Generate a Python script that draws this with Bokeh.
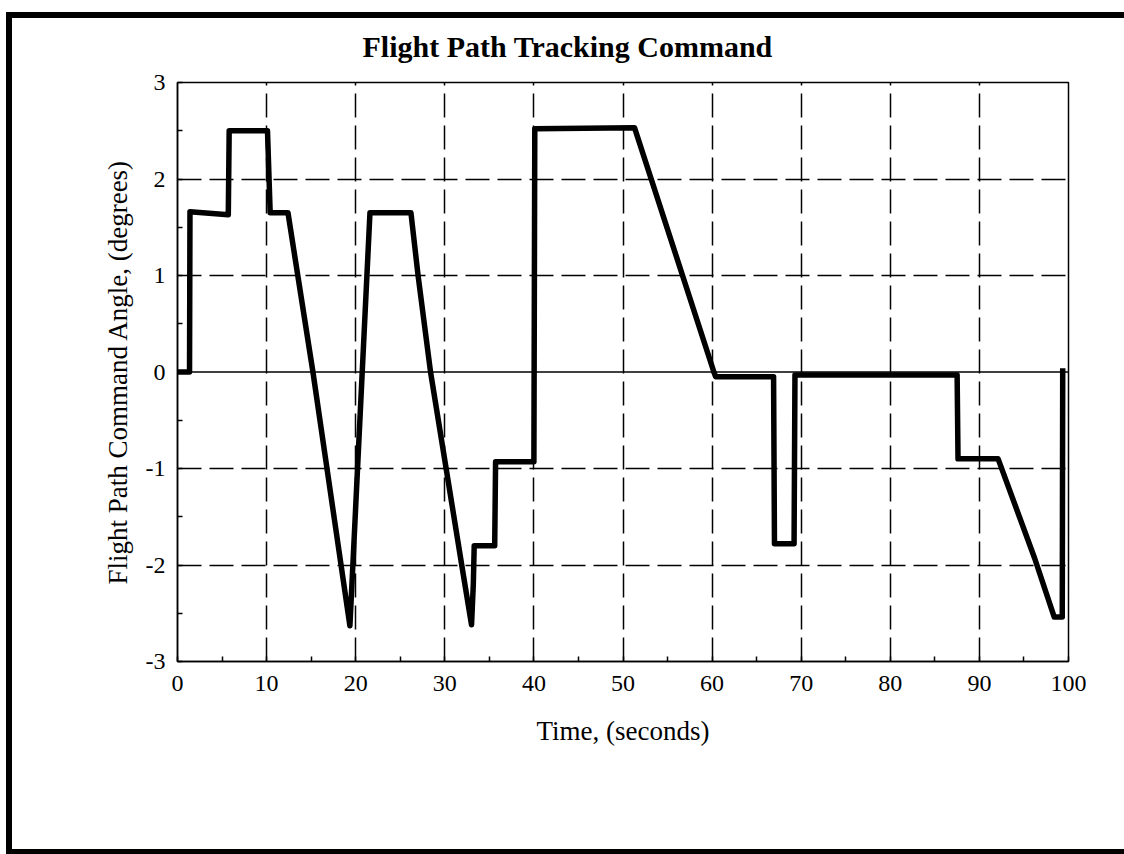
from bokeh.plotting import figure
from bokeh.models import Range1d, FixedTicker, Span, Title
from bokeh.embed import file_html
from bokeh.resources import INLINE

# Time (s) and flight path command angle (deg)
time_s = [0.0, 1.35, 1.4, 5.7, 5.8, 10.1, 10.4, 12.4, 13.5, 15.2, 19.35,
          21.6, 26.2, 27.0, 28.4, 31.9, 33.0, 33.2, 33.3, 35.6, 35.7,
          40.0, 40.1, 51.3, 60.2, 60.4, 66.9, 67.0, 69.2, 69.3, 87.5, 87.6, 92.1,
          96.2, 98.4, 99.3, 99.35]
angle_deg = [0.0, 0.0, 1.66, 1.63, 2.5, 2.5, 1.65, 1.65, 1.0, 0.0, -2.63,
             1.65, 1.65, 1.0, 0.0, -2.0, -2.62, -2.2, -1.8, -1.8, -0.93,
             -0.93, 2.52, 2.53, 0.0, -0.05, -0.05, -1.78, -1.78, -0.03, -0.03, -0.9, -0.9,
             -1.93, -2.54, -2.54, 0.04]

x_ticks = [0, 10, 20, 30, 40, 50, 60, 70, 80, 90, 100]
x_minor = [5, 15, 25, 35, 45, 55, 65, 75, 85, 95]
y_ticks = [-3, -2, -1, 0, 1, 2, 3]
y_tick_labels = ["-3", "-2", "-1", "0", "1", "2", "3"]
y_minor = [-2.5, -1.5, -0.5, 0.5, 1.5, 2.5]
x_grid = [10, 20, 30, 40, 50, 60, 70, 80, 90]
y_grid = [-2, -1, 1, 2]

title_text = "Flight Path Tracking Command"
x_label = "Time, (seconds)"
y_label = "Flight Path Command Angle, (degrees)"

FONT = "Liberation Serif"

# page border of the scanned figure (left, top and bottom edges)
page_border = {
    "background-color": "white",
    "background-image": "linear-gradient(#000,#000), linear-gradient(#000,#000), linear-gradient(#000,#000)",
    "background-size": "6px 843px, 1118px 6px, 1118px 5px",
    "background-position": "6px 12px, 6px 12px, 6px 849px",
    "background-repeat": "no-repeat",
}

p = figure(width=1124, height=854, output_backend="svg", toolbar_location=None,
           x_range=Range1d(0, 100), y_range=Range1d(-3, 3),
           min_border_left=177, min_border_right=56, min_border_top=82,
           min_border_bottom=193, styles=page_border)
p.background_fill_color = "white"
p.border_fill_color = None
p.outline_line_color = "black"
p.outline_line_width = 1.5

p.title = Title(text=title_text, align="left", offset=185,
                text_font=FONT, text_font_size="30px", text_font_style="bold",
                text_color="black", standoff=40)

p.xaxis.ticker = FixedTicker(ticks=x_ticks, minor_ticks=x_minor)
p.yaxis.ticker = FixedTicker(ticks=y_ticks, minor_ticks=y_minor)
p.yaxis.major_label_overrides = {t: s for t, s in zip(y_ticks, y_tick_labels)}
for ax in (p.xaxis[0], p.yaxis[0]):
    ax.axis_line_color = "black"
    ax.axis_line_width = 1.5
    ax.major_tick_in = 5
    ax.major_tick_out = 0
    ax.minor_tick_in = 5
    ax.minor_tick_out = 0
    ax.major_tick_line_color = "black"
    ax.minor_tick_line_color = "black"
    ax.major_tick_line_width = 1.5
    ax.minor_tick_line_width = 1.5
    ax.major_label_text_font = FONT
    ax.major_label_text_font_size = "24px"
    ax.major_label_text_color = "black"
    ax.axis_label_text_font = FONT
    ax.axis_label_text_font_size = "27px"
    ax.axis_label_text_font_style = "normal"
    ax.axis_label_text_color = "black"
p.xaxis.axis_label = x_label
p.yaxis.axis_label = y_label
p.xaxis.major_label_standoff = 14
p.xaxis.axis_label_standoff = 22
p.yaxis.major_label_standoff = 12
p.yaxis.axis_label_standoff = 10

p.xgrid.ticker = FixedTicker(ticks=x_grid)
p.ygrid.ticker = FixedTicker(ticks=y_grid)
for g in (p.xgrid[0], p.ygrid[0]):
    g.grid_line_color = "black"
    g.grid_line_width = 1.5
    g.grid_line_dash = "24 8"

p.add_layout(Span(location=0, dimension="width", line_color="black", line_width=1.5))

p.line(time_s, angle_deg, line_color="black", line_width=5.5, line_join="round")

open("out.html", "w").write(file_html(p, INLINE))
